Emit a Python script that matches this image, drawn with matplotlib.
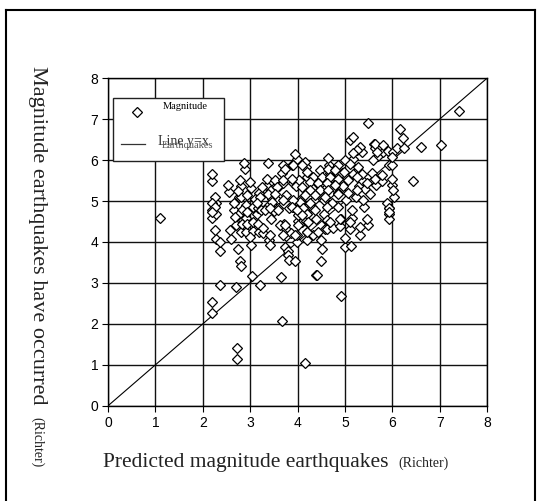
import matplotlib
matplotlib.use("Agg")
import matplotlib.pyplot as plt
from matplotlib.lines import Line2D
from matplotlib.patches import Rectangle

# Predicted magnitude (x) vs occurred magnitude (y), Richter
predicted = [
    1.09, 2.20, 2.20, 2.20, 2.28, 2.28, 2.28, 2.36, 2.36, 2.20, 2.20, 2.56, 2.59, 2.65, 2.71,
    2.71, 2.73, 2.73, 2.80, 2.76, 2.80, 2.80, 2.80, 2.78, 2.80, 2.89, 2.92, 2.92, 2.92, 3.02,
    3.02, 3.03, 3.07, 3.07, 3.14, 3.16, 3.18, 3.19, 3.22, 3.21, 3.27, 3.38, 3.36, 3.38, 3.40,
    3.42, 3.43, 3.45, 3.47, 3.50, 3.54, 3.56, 3.58, 3.61, 3.65, 3.67, 3.68, 3.70, 3.72, 3.75,
    3.76, 3.73, 3.75, 3.79, 3.80, 3.82, 3.83, 3.87, 3.89, 3.91, 3.91, 3.94, 3.96, 3.98, 3.98,
    3.99, 4.01, 4.04, 4.05, 4.07, 4.10, 4.12, 4.15, 4.17, 4.18, 4.20, 4.21, 4.23, 4.21, 4.27,
    4.31, 4.31, 4.33, 4.34, 4.38, 4.40, 4.41, 4.45, 4.49, 4.49, 4.52, 4.55, 4.56, 4.58, 4.62,
    4.63, 4.67, 4.69, 4.69, 4.72, 4.74, 4.81, 4.84, 4.85, 4.85, 4.89, 4.92, 4.92, 4.94, 4.96,
    5.00, 5.03, 5.05, 5.07, 5.11, 5.13, 5.14, 5.11, 5.18, 5.18, 5.21, 5.23, 5.29, 5.32, 5.35,
    5.36, 5.40, 5.43, 5.49, 5.49, 5.52, 5.58, 5.61, 5.64, 5.65, 5.69, 5.75, 5.78, 5.81, 5.91,
    5.93, 5.93, 5.93, 5.93, 6.00, 6.00, 6.01, 6.03, 6.10, 6.16, 6.22, 6.25, 6.44, 6.60, 7.03,
    7.41,
    # dense band 4-6
    5.32, 5.25, 5.18, 5.64, 5.81, 5.67, 5.99, 4.65, 4.16, 4.19, 5.00, 5.11, 4.86, 5.28, 5.60,
    4.47, 4.65, 4.79, 4.97, 5.18, 5.35, 4.33, 4.51, 4.69, 4.86, 5.07, 5.25, 5.64, 5.78, 5.99,
    4.26, 4.44, 4.62, 4.79, 5.46, 4.09, 4.26, 4.47, 4.65, 4.16, 4.37, 4.58, 4.86, 5.25, 5.39,
    4.05, 4.26, 5.88, 6.02, 4.12, 4.37, 4.62, 5.14, 5.92, 5.92, 4.02, 4.19, 4.90, 5.46, 5.11,
    4.23, 4.62, 4.69, 5.32, 4.44, 4.19, 3.98, 5.00, 4.51,
    # dense band 2-4
    3.95, 2.88, 3.70, 3.74, 3.91, 4.09, 2.19, 2.54, 2.79, 3.00, 3.35, 3.53, 3.70, 3.88, 3.24,
    3.56, 2.75, 2.93, 3.10, 3.21, 3.38, 3.53, 3.46, 3.70, 3.91, 3.14, 2.26, 2.19, 2.26, 2.19,
    2.65, 2.82, 2.75, 2.93, 2.68, 3.31, 3.42, 3.59, 3.88, 3.98, 4.09, 2.82, 2.93, 3.07, 3.17,
    2.26, 2.58, 3.00, 3.28, 3.42, 3.63, 3.74, 3.70, 3.95, 4.02, 2.37, 2.75,
]
occurred = [
    4.59, 5.49, 4.77, 4.58, 4.95, 4.68, 4.08, 3.78, 2.96, 2.53, 2.26, 5.22, 4.08, 4.77, 4.42,
    2.90, 1.42, 1.15, 5.36, 5.09, 5.09, 4.58, 4.25, 3.54, 3.42, 5.79, 4.91, 4.58, 4.25, 5.32,
    3.93, 3.17, 4.85, 4.28, 4.68, 4.82, 4.25, 5.19, 4.77, 2.94, 4.22, 5.94, 5.36, 4.87, 4.05,
    3.93, 4.55, 5.27, 5.04, 4.75, 5.36, 5.02, 4.82, 5.36, 3.14, 2.06, 5.69, 5.43, 4.45, 4.31,
    4.15, 3.88, 5.14, 3.78, 3.68, 3.57, 4.82, 4.21, 5.89, 4.85, 5.43, 3.54, 5.36, 6.03, 4.79,
    4.01, 4.51, 5.52, 5.02, 4.68, 4.48, 4.85, 1.05, 5.83, 4.51, 5.59, 4.25, 4.88, 4.05, 5.26,
    5.32, 4.85, 4.18, 5.02, 3.20, 4.55, 3.20, 5.19, 4.05, 3.54, 5.46, 5.02, 4.68, 4.31, 4.51,
    4.31, 5.89, 5.69, 5.19, 4.94, 4.34, 5.44, 5.69, 5.19, 4.85, 4.38, 4.55, 2.67, 5.69, 5.36,
    3.88, 5.02, 5.59, 5.19, 4.31, 3.91, 4.58, 6.50, 6.57, 6.03, 5.69, 5.09, 5.36, 4.18, 6.20,
    5.52, 4.85, 5.29, 6.90, 4.42, 5.16, 5.69, 6.40, 6.30, 5.39, 6.10, 6.30, 5.49, 6.20, 6.23,
    5.89, 4.82, 4.68, 4.55, 5.89, 5.39, 6.20, 5.09, 6.30, 6.77, 6.53, 6.30, 5.49, 6.33, 6.37,
    7.19,
    # dense band 4-6
    6.32, 6.24, 6.17, 6.40, 6.36, 6.20, 6.08, 6.04, 5.95, 5.71, 6.00, 5.91, 5.87, 5.83, 6.00,
    5.75, 5.79, 5.75, 5.71, 5.67, 5.67, 5.59, 5.59, 5.59, 5.55, 5.51, 5.59, 5.55, 5.63, 5.55,
    5.47, 5.43, 5.43, 5.39, 5.43, 5.35, 5.26, 5.26, 5.26, 5.14, 5.14, 5.10, 5.18, 5.26, 5.02,
    4.98, 4.94, 4.94, 5.26, 4.82, 4.78, 4.86, 4.78, 4.82, 4.74, 4.65, 4.69, 4.57, 4.57, 4.49,
    4.49, 4.53, 4.49, 4.37, 4.25, 4.25, 4.17, 4.09, 3.84,
    # dense band 2-4
    6.16, 5.93, 5.87, 5.79, 5.87, 5.87, 5.65, 5.39, 5.51, 5.47, 5.53, 5.51, 5.51, 5.55, 5.34,
    5.34, 5.25, 5.14, 5.06, 5.10, 5.18, 5.18, 4.98, 5.02, 5.02, 4.94, 5.10, 4.94, 4.86, 4.73,
    4.94, 4.78, 4.65, 4.73, 4.61, 4.78, 4.82, 4.78, 4.86, 4.78, 4.65, 4.45, 4.45, 4.49, 4.45,
    4.29, 4.29, 4.13, 4.33, 4.17, 4.41, 4.41, 4.17, 4.17, 4.41, 4.00, 3.84,
]
ticks = [0, 1, 2, 3, 4, 5, 6, 7, 8]
diag = [0, 8]

fig = plt.figure(figsize=(5.40, 5.01), dpi=100)
ax = fig.add_axes([0.200, 0.190, 0.702, 0.654])
ax.set_xlim(0, 8)
ax.set_ylim(0, 8)
ax.set_xticks(ticks)
ax.set_yticks(ticks)
ax.set_xticklabels([str(t) for t in ticks], family="Liberation Sans", fontsize=10)
ax.set_yticklabels([str(t) for t in ticks], family="Liberation Sans", fontsize=10)
ax.tick_params(direction="out", length=4, width=0.8, pad=3)
ax.grid(True, color="#111111", linewidth=1.0)
ax.set_axisbelow(True)
for s in ax.spines.values():
    s.set_linewidth(1.0)

ax.plot(diag, diag, color="black", linewidth=0.8, zorder=2)
ax.plot(predicted, occurred, linestyle="none", marker="D", markersize=5.5,
        markerfacecolor="white", markeredgecolor="black", markeredgewidth=0.9, zorder=3)

# legend box (drawn manually)
tr = ax.transAxes
ax.add_patch(Rectangle((0.013, 0.747), 0.293, 0.192, transform=tr, facecolor="white",
                       edgecolor="#222222", linewidth=1.0, zorder=5, clip_on=False))
ax.add_line(Line2D([0.076], [0.898], transform=tr, marker="D", markersize=5.5,
                   markerfacecolor="white", markeredgecolor="black", markeredgewidth=0.9,
                   zorder=6, linestyle="none"))
ax.add_line(Line2D([0.033, 0.098], [0.80, 0.80], transform=tr, color="#333333",
                   linewidth=0.9, zorder=6))
ax.text(0.145, 0.912, "Magnitude", transform=tr, family="Liberation Serif",
        fontsize=7.5, va="center", ha="left", zorder=6)
clip_rect = Rectangle((0.013, 0.747), 0.293, 0.192, transform=tr)
t1 = ax.text(0.132, 0.808, "Line y=x", transform=tr, family="Liberation Serif",
             fontsize=10, va="center", ha="left", zorder=6, color="#333333")
t2 = ax.text(0.143, 0.795, "Earthquakes", transform=tr, family="Liberation Serif",
             fontsize=7.5, va="center", ha="left", zorder=6, color="#555555")
for t in (t1, t2):
    t.set_clip_path(clip_rect)
    t.set_clip_on(True)

# axis labels
fig.text(103 / 540, 1 - 462 / 501, "Predicted magnitude earthquakes", family="Liberation Serif",
         fontsize=15.5, ha="left", va="center", color="#222222")
fig.text(398 / 540, 1 - 463 / 501, "(Richter)", family="Liberation Serif",
         fontsize=10, ha="left", va="center", color="#222222")
fig.text(37 / 540, 1 - 66 / 501, "Magnitude earthquakes have occurred", family="Liberation Serif",
         fontsize=16, rotation=-90, ha="center", va="top", color="#222222")
fig.text(37 / 540, 1 - 417 / 501, "(Richter)", family="Liberation Serif",
         fontsize=10, rotation=-90, ha="center", va="top", color="#222222")

# outer frame
fig.add_artist(Line2D([0.011, 0.011], [0.0, 0.980], transform=fig.transFigure,
                      color="black", linewidth=1.5))
fig.add_artist(Line2D([0.011, 0.991], [0.980, 0.980], transform=fig.transFigure,
                      color="black", linewidth=1.5))
fig.add_artist(Line2D([0.991, 0.991], [0.0, 0.980], transform=fig.transFigure,
                      color="black", linewidth=1.5))

fig.savefig("out.png", dpi=100)
